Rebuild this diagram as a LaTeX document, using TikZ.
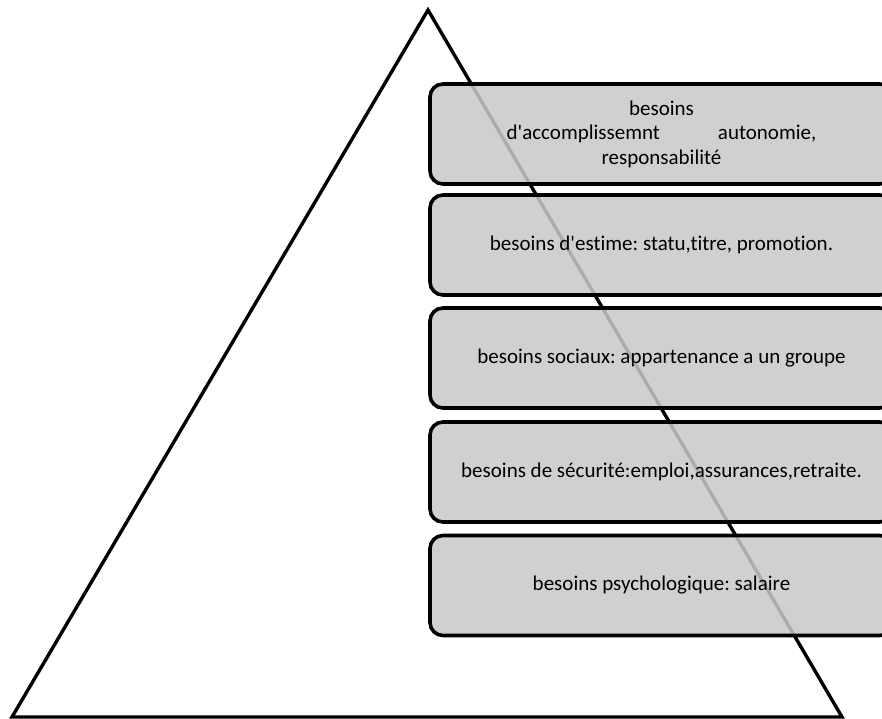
\documentclass[tikz,border=0pt]{standalone}
\usepackage{fontspec}
\newfontfamily\calfont[Ligatures=NoCommon]{Carlito}
\frenchspacing
\begin{document}
\begin{tikzpicture}[x=1bp,y=-1bp,
  needbox/.style={draw=black, line width=3.6bp, rounded corners=13bp,
    fill={rgb,255:red,201;green,201;blue,201}, fill opacity=0.86, text opacity=1,
    minimum width=463bp, minimum height=100bp, align=center,
    font=\calfont\fontsize{21bp}{24.5bp}\selectfont, inner sep=0pt},
  tri/.style={draw=black, line width=3.4bp, line join=miter}]
\useasboundingbox (0,0) rectangle (882,719);
\clip (0,0) rectangle (882,719);
\fill[white] (0,0) rectangle (882,719);
\coordinate (apex) at (428,10);
\coordinate (bl) at (12,717);
\coordinate (br) at (842,717);
\draw[tri] (bl) -- (apex) -- (br) -- cycle;
\node[needbox] (n1) at (661.5,134) {besoins\\d'accomplissemnt\hspace{58bp}autonomie,\\responsabilité};
\node[needbox] (n2) at (661.5,245) {besoins d'estime: statu,titre, promotion.};
\node[needbox] (n3) at (661.5,358) {besoins sociaux: appartenance a un groupe};
\node[needbox] (n4) at (661.5,472) {besoins de sécurité:emploi,assurances,retraite.};
\node[needbox] (n5) at (661.5,585.5) {besoins psychologique: salaire};
\end{tikzpicture}
\end{document}
